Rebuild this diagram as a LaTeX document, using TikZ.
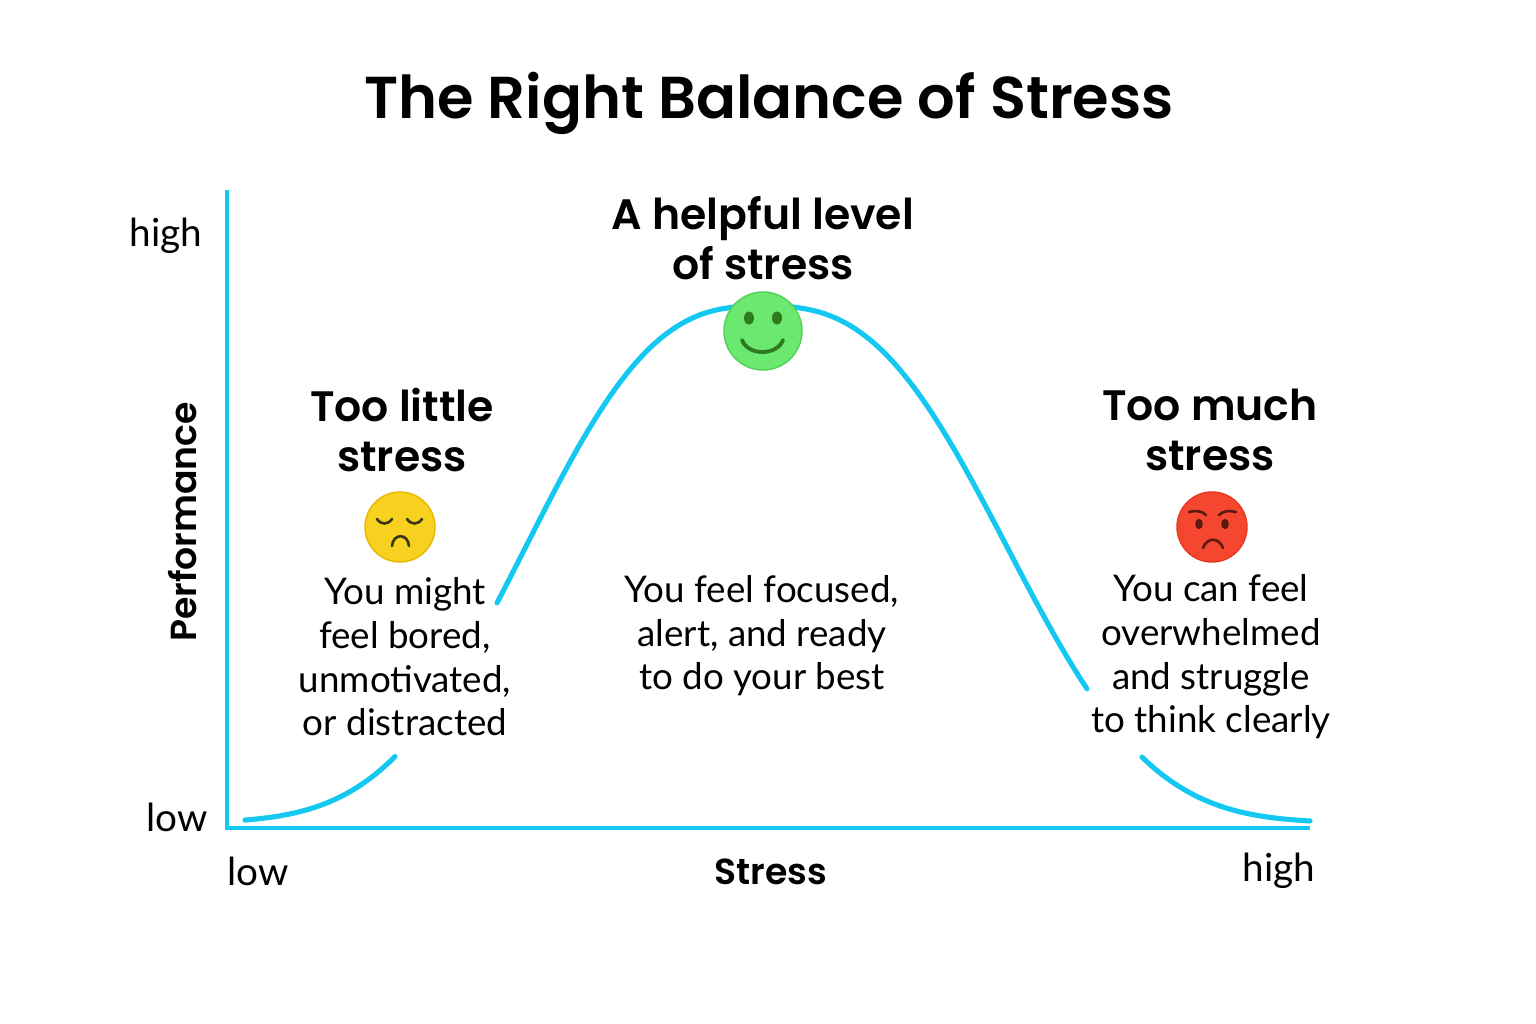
\documentclass[tikz,border=0pt]{standalone}
\usepackage{fontspec}
\setmainfont{Lato}
\newfontfamily\headfont{Poppins}[BoldFont={Poppins SemiBold}]
\definecolor{axiscyan}{HTML}{14C8F2}
\definecolor{faceyellow}{HTML}{F8D020}
\definecolor{yellowline}{HTML}{E8B800}
\definecolor{yellowfeat}{HTML}{3A3A12}
\definecolor{facegreen}{HTML}{6BE870}
\definecolor{greenline}{HTML}{55D05A}
\definecolor{greenfeat}{HTML}{2F7A1E}
\definecolor{facered}{HTML}{F5472F}
\definecolor{redline}{HTML}{E83A22}
\definecolor{redfeat}{HTML}{5A1A10}
\tikzset{
  axisline/.style={draw=axiscyan, line width=1.3pt},
  curveline/.style={draw=axiscyan, line width=1.45pt, line cap=round},
  titletext/.style={font=\headfont\bfseries\fontsize{16.8}{20}\selectfont, text=black},
  headtext/.style={font=\headfont\bfseries\fontsize{12.1}{14.2}\selectfont, align=center, text=black},
  bodytext/.style={font=\fontsize{10.45}{12.4}\selectfont, align=center, text=black},
  ticktext/.style={font=\fontsize{11}{13}\selectfont, text=black},
  axistitle/.style={font=\headfont\bfseries\fontsize{10.3}{12}\selectfont, text=black},
  featline/.style={line width=0.75pt, line cap=round},
}
\begin{document}
\begin{tikzpicture}[x=0.01cm,y=-0.01cm]
\useasboundingbox[fill=white] (0,0) rectangle (1536,1024);

% title
\node[titletext] (title) at (769,103) {The Right Balance of Stress};

% axes
\coordinate (origin) at (227,828);
\coordinate (ytop) at (227,190);
\coordinate (xend) at (1310,828);
\draw[axisline] (ytop) -- (origin) -- (xend);

% axis labels
\node[ticktext] (yhigh) at (166,236) {high};
\node[ticktext] (ylow) at (177,817) {low};
\node[axistitle, rotate=90] (perf) at (183,522) {Performance};
\node[ticktext] (xlow) at (258,871) {low};
\node[axistitle] (stress) at (771,872) {Stress};
\node[ticktext] (xhigh) at (1279,871) {high};

% curve pieces (bell: y = 823 - 517 exp(-(|dx|/s)^2.7))
\draw[curveline] plot[domain=245:395, samples=40] (\x, {823-517*exp(-((763.01-\x)/282)^2.7)});
\draw[curveline] plot[domain=497:763, samples=60] (\x, {823-517*exp(-((763.01-\x)/282)^2.7)})
  -- plot[domain=763:1087, samples=70] (\x, {823-517*exp(-((\x-762.99)/290)^2.7)});
\draw[curveline] plot[domain=1142:1310, samples=40] (\x, {823-517*exp(-((\x-762.99)/290)^2.7)});

% headings
\node[headtext] (lowhead) at (402,430) {Too little\\stress};
\node[headtext] (midhead) at (763,238) {A helpful level\\of stress};
\node[headtext] (highhead) at (1210,430) {Too much\\stress};

% body texts
\node[bodytext] (lowbody) at (405,657) {You might\\feel bored,\\unmotivated,\\or distracted};
\node[bodytext] (midbody) at (762,636) {You feel focused,\\alert, and ready\\to do your best};
\node[bodytext] (highbody) at (1211,657) {You can feel\\overwhelmed\\and struggle\\to think clearly};

% yellow face (sleepy/sad)
\node[circle, fill=faceyellow, draw=yellowline, line width=0.4pt, minimum size=0.7cm, inner sep=0pt] (yface) at (400,527) {};
\draw[featline, draw=yellowfeat] (377,519) .. controls (381,525) and (388,525) .. (392,519);
\draw[featline, draw=yellowfeat] (407,519) .. controls (411,525) and (418,525) .. (422,519);
\draw[featline, draw=yellowfeat] (392,546) .. controls (393,533) and (408,533) .. (409,546);

% green face (smile)
\node[circle, fill=facegreen, draw=greenline, line width=0.4pt, minimum size=0.78cm, inner sep=0pt] (gface) at (763,331) {};
\fill[greenfeat] (749,318) ellipse (5 and 6.5);
\fill[greenfeat] (777,318) ellipse (5 and 6.5);
\draw[greenfeat, line width=1.1pt, line cap=round] (742,340) .. controls (748,356) and (777,356) .. (783,340);

% red face (angry/sad)
\node[circle, fill=facered, draw=redline, line width=0.4pt, minimum size=0.7cm, inner sep=0pt] (rface) at (1212,527) {};
\draw[featline, draw=redfeat] (1189,512) .. controls (1196,510) and (1202,511) .. (1206,515);
\draw[featline, draw=redfeat] (1219,515) .. controls (1223,511) and (1229,510) .. (1236,512);
\fill[redfeat] (1199,524) ellipse (3.8 and 5.2);
\fill[redfeat] (1225,524) ellipse (3.8 and 5.2);
\draw[featline, draw=redfeat] (1203,548) .. controls (1207,537) and (1219,537) .. (1223,548);
\end{tikzpicture}
\end{document}
